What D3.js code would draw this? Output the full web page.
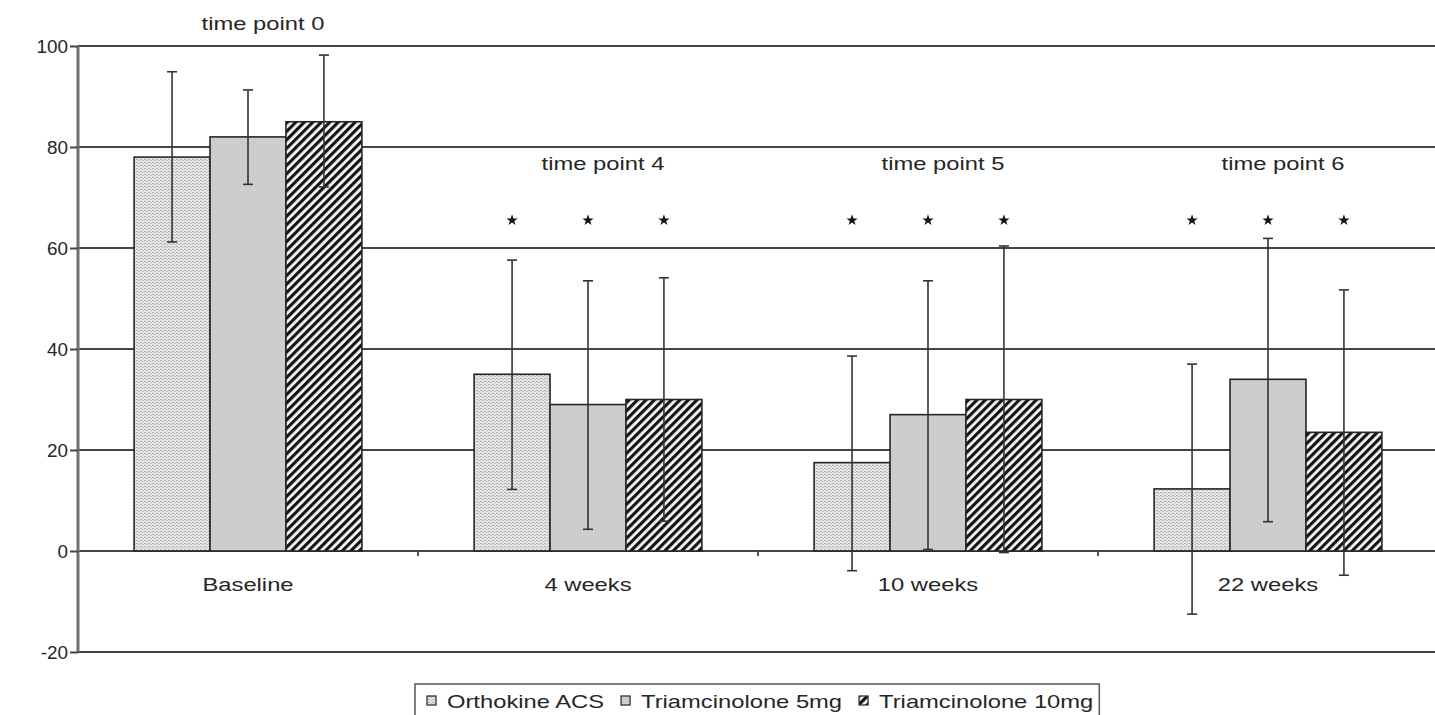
<!DOCTYPE html>
<html><head><meta charset="utf-8">
<script src="https://cdn.jsdelivr.net/npm/d3@7/dist/d3.min.js"></script>
<style>
html,body{margin:0;padding:0;background:#fff;}
text{font-family:"Liberation Sans",Arial,sans-serif;fill:#262626;}
</style></head>
<body>
<svg id="chart" width="1435" height="715"></svg>
<script>
const categories = ["Baseline", "4 weeks", "10 weeks", "22 weeks"];
const timeLabels = ["time point 0", "time point 4", "time point 5", "time point 6"];
const timeLabelLevel = [103.2, 75.5, 75.5, 75.5];
const seriesNames = ["Orthokine ACS", "Triamcinolone 5mg", "Triamcinolone 10mg"];
const means = [
  [78, 35, 17.5, 12.3],
  [82, 29, 27, 34],
  [85, 30, 30, 23.5]
];
const errHigh = [
  [94.9, 57.6, 38.6, 37.0],
  [91.3, 53.5, 53.5, 61.9],
  [98.2, 54.1, 60.4, 51.7]
];
const errLow = [
  [61.2, 12.2, -3.9, -12.5],
  [72.6, 4.3, 0.3, 5.8],
  [72.1, 5.9, -0.3, -4.8]
];
const significant = [false, true, true, true];
const starLevel = 65.5;
const yTicks = [-20, 0, 20, 40, 60, 80, 100];

(function () {
const svg = d3.select("#chart");
const SX = 1.25;
const pLeft = 78, pRight = 1438, pTop = 46, pBottom = 652;

const x = d3.scaleBand().domain(categories).range([pLeft, pRight]).padding(0);
const bw = x.bandwidth();
const xs = d3.scaleBand().domain(seriesNames).range([bw * 0.165, bw * 0.835]).padding(0);
const y = d3.scaleLinear().domain([-20, 100]).range([pBottom, pTop]);

// patterns
const defs = svg.append("defs");
const p1 = defs.append("pattern").attr("id", "pat0").attr("patternUnits", "userSpaceOnUse")
  .attr("width", 4).attr("height", 3);
p1.append("rect").attr("width", 4).attr("height", 3).attr("fill", "#e4e4e4");
p1.append("rect").attr("y", 0).attr("width", 2).attr("height", 1).attr("fill", "#b4b4b4");
p1.append("rect").attr("x", 2).attr("y", 1).attr("width", 2).attr("height", 1).attr("fill", "#c4c4c4");
const p2 = defs.append("pattern").attr("id", "pat1").attr("patternUnits", "userSpaceOnUse")
  .attr("width", 4).attr("height", 4);
p2.append("rect").attr("width", 4).attr("height", 4).attr("fill", "#cdcdcd");
const p3 = defs.append("pattern").attr("id", "pat2").attr("patternUnits", "userSpaceOnUse")
  .attr("width", 6).attr("height", 6).attr("patternTransform", "rotate(45)");
p3.append("rect").attr("width", 6).attr("height", 6).attr("fill", "#fafafa");
p3.append("rect").attr("x", 0).attr("width", 3.2).attr("height", 6).attr("fill", "#151515");

// gridlines
svg.append("g").selectAll("line").data(yTicks).join("line")
  .attr("x1", pLeft).attr("x2", pRight)
  .attr("y1", d => y(d)).attr("y2", d => y(d))
  .attr("stroke", "#444").attr("stroke-width", 2);

// bars
const flat = [];
seriesNames.forEach((s, si) => categories.forEach((c, ci) => {
  flat.push({s, si, c, ci, v: means[si][ci], hi: errHigh[si][ci], lo: errLow[si][ci]});
}));
svg.append("g").selectAll("rect").data(flat).join("rect")
  .attr("x", d => x(d.c) + xs(d.s))
  .attr("width", xs.bandwidth())
  .attr("y", d => y(d.v))
  .attr("height", d => y(0) - y(d.v))
  .attr("fill", d => `url(#pat${d.si})`)
  .attr("stroke", "#262626").attr("stroke-width", 1.6);

// error bars
const eg = svg.append("g").attr("stroke", "#333").attr("stroke-width", 1.6);
flat.forEach(d => {
  const cx = x(d.c) + xs(d.s) + xs.bandwidth() / 2;
  eg.append("line").attr("x1", cx).attr("x2", cx).attr("y1", y(d.hi)).attr("y2", y(d.lo));
  eg.append("line").attr("x1", cx - 5).attr("x2", cx + 5).attr("y1", y(d.hi)).attr("y2", y(d.hi));
  eg.append("line").attr("x1", cx - 5).attr("x2", cx + 5).attr("y1", y(d.lo)).attr("y2", y(d.lo));
});

// stars
const star = d3.symbol().type(d3.symbolStar).size(40);
flat.filter(d => significant[d.ci]).forEach(d => {
  const cx = x(d.c) + xs(d.s) + xs.bandwidth() / 2;
  svg.append("path").attr("d", star).attr("transform", `translate(${cx},${y(starLevel)})`)
    .attr("fill", "#111");
});

// y axis
const ya = svg.append("g").attr("transform", `translate(${pLeft},0)`)
  .call(d3.axisLeft(y).tickValues(yTicks).tickSize(8).tickPadding(10).tickFormat(d => String(d)));
ya.select(".domain").attr("stroke", "#707070").attr("stroke-width", 3).attr("d", `M0,${pTop}V${pBottom}`);
ya.selectAll(".tick line").attr("stroke", "#444").attr("stroke-width", 2);
ya.selectAll(".tick text")
  .attr("x", null).attr("dy", "0.36em")
  .attr("transform", `translate(-10,0) scale(1.05,1)`)
  .style("font-size", "18px").style("fill", "#262626").style("font-family", "Liberation Sans, Arial, sans-serif");

// x axis ticks
const boundaries = categories.map(c => x(c)).slice(1);
svg.append("g").selectAll("line").data(boundaries).join("line")
  .attr("x1", d => d).attr("x2", d => d).attr("y1", y(0)).attr("y2", y(0) + 5)
  .attr("stroke", "#555").attr("stroke-width", 2);

// category labels
svg.append("g").selectAll("text").data(categories).join("text")
  .attr("transform", d => `translate(${x(d) + bw / 2},${y(0) + 40}) scale(${SX},1)`)
  .attr("text-anchor", "middle").style("font-size", "19px").text(d => d);

// time point labels
svg.append("g").selectAll("text").data(timeLabels).join("text")
  .attr("transform", (d, i) => `translate(${x(categories[i]) + bw / 2 + 15},${y(timeLabelLevel[i])}) scale(${SX},1)`)
  .attr("text-anchor", "middle").style("font-size", "19px").text(d => d);

// legend
const lg = svg.append("g");
const legY = 708;
let cursor = 427;
seriesNames.forEach((s, i) => {
  const g = lg.append("g");
  g.append("rect").attr("x", cursor).attr("y", legY - 12).attr("width", 9).attr("height", 9)
    .attr("fill", `url(#pat${i})`).attr("stroke", "#333").attr("stroke-width", 1.3);
  const t = g.append("text").attr("transform", `translate(${cursor + 20},${legY}) scale(${SX},1)`)
    .style("font-size", "19px").text(s);
  const w = t.node().getComputedTextLength() * SX;
  cursor += 20 + w + 17;
});
lg.insert("rect", ":first-child").attr("x", 415).attr("y", 684).attr("width", cursor - 17 + 6 - 415).attr("height", 40)
  .attr("fill", "#fff").attr("stroke", "#555").attr("stroke-width", 1.5);
})();
</script>
</body></html>
